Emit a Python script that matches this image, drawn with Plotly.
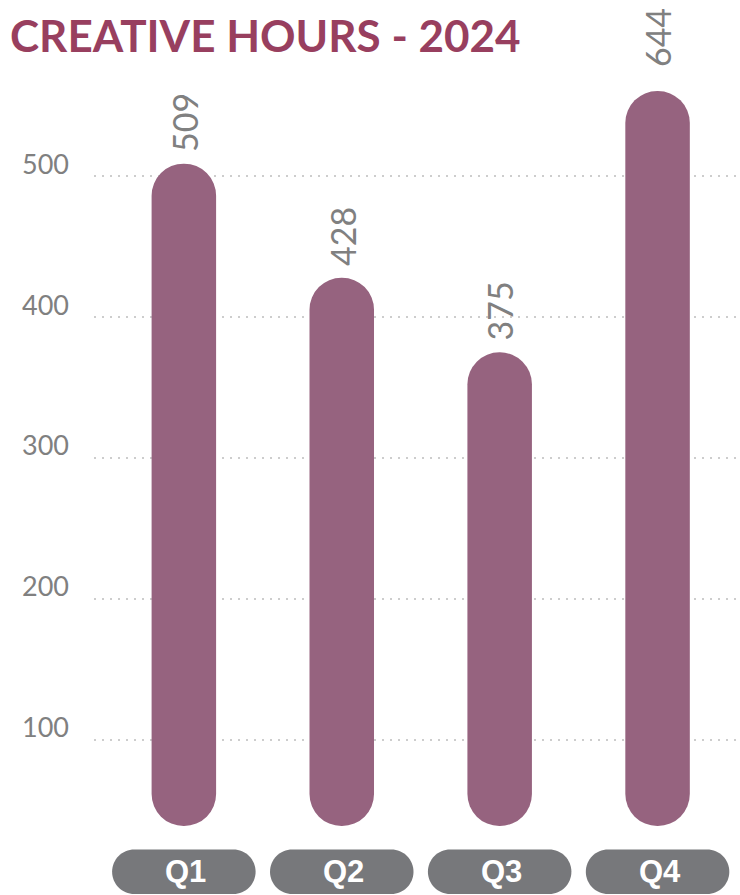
import plotly.graph_objects as go

# data
quarters = ["Q1", "Q2", "Q3", "Q4"]
hours = [509, 428, 375, 644]
y_ticks = [100, 200, 300, 400, 500]

BAR_COLOR = "#96637f"
TITLE_COLOR = "#983f5f"
GRAY = "#808080"
PILL_COLOR = "#77787b"

# value axis is cut at Y_MAX; taller bars are clamped there (label keeps real value)
Y_MIN, Y_MAX = 38.6, 560.6
tops = [min(v, Y_MAX) for v in hours]

fig = go.Figure()

# bars with a base set: plotly rounds both ends
fig.add_trace(go.Bar(
    x=quarters, y=[t - Y_MIN for t in tops], base=Y_MIN,
    width=0.4085, marker=dict(color=BAR_COLOR, cornerradius="50%", line=dict(width=0)),
    hoverinfo="skip", showlegend=False,
))

# value labels above the bars (a bit higher when the bar is clamped)
for q, v, t in zip(quarters, hours, tops):
    fig.add_annotation(
        x=q, y=t, text=str(v), showarrow=False, textangle=-90,
        xanchor="center", yanchor="bottom", yshift=10 if v <= Y_MAX else 22,
        font=dict(family="Lato", size=34, color=GRAY),
    )

# category pills under the chart
pw, ph = 143.5, 44.5
r = ph / 2
k = 0.5523 * r
hw = pw / 2
pill = (
    f"M {-hw + r},{-r} L {hw - r},{-r} "
    f"C {hw - r + k},{-r} {hw},{-k} {hw},0 "
    f"C {hw},{k} {hw - r + k},{r} {hw - r},{r} "
    f"L {-hw + r},{r} "
    f"C {-hw + r - k},{r} {-hw},{k} {-hw},0 "
    f"C {-hw},{-k} {-hw + r - k},{-r} {-hw + r},{-r} Z"
)
for q in quarters:
    fig.add_shape(
        type="path", path=pill, xref="x", yref="paper",
        xsizemode="pixel", ysizemode="pixel", xanchor=q, yanchor=-0.0623,
        fillcolor=PILL_COLOR, line=dict(width=0), layer="above",
    )
    fig.add_annotation(
        x=q, y=-0.0623, yref="paper", text=f"<b>{q}</b>", showarrow=False,
        xanchor="center", yanchor="middle", xshift=2,
        font=dict(family="Liberation Sans", size=31, color="white"),
    )

fig.update_layout(
    width=740, height=895,
    margin=dict(l=94, r=0, t=90.7, b=69.3),
    paper_bgcolor="white", plot_bgcolor="white",
    title=dict(
        text="<b>CREATIVE HOURS - 2024</b>", x=10 / 740, xanchor="left",
        y=1 - 37 / 895, yanchor="middle", xref="container", yref="container",
        font=dict(family="Lato", size=44, color=TITLE_COLOR),
    ),
    xaxis=dict(
        range=[-0.569, 3.522], showticklabels=False, showgrid=False,
        zeroline=False, showline=False, fixedrange=True,
    ),
    yaxis=dict(
        range=[Y_MIN, Y_MAX], tickvals=y_ticks, ticks="",
        showgrid=True, gridcolor="#cdcdcd", gridwidth=2, griddash="2px,6px",
        zeroline=False, showline=False,
        tickfont=dict(family="Lato", size=27, color=GRAY),
        ticklabelshift=-12, ticklabelstandoff=24,
    ),
)

# drop the browser's default body margin so the figure fills the window
fig.write_html(
    "out.html",
    config={"displayModeBar": False},
    post_script="document.body.style.margin='0';",
)
